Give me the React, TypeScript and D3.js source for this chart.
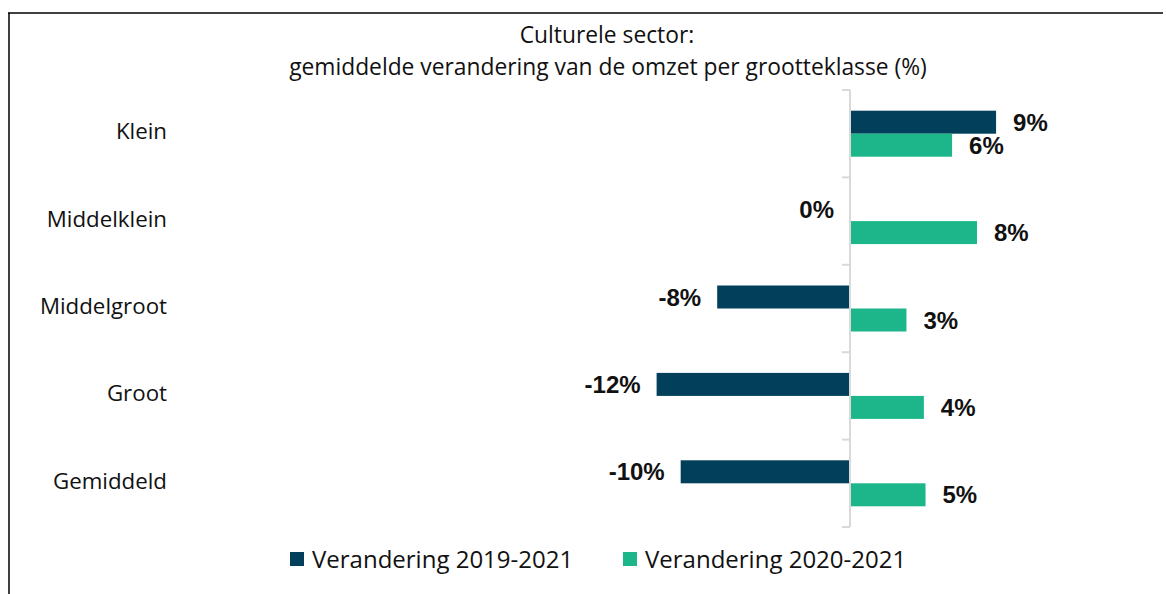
import React from "react";
import * as d3 from "d3";

// categories, top to bottom
const categories = ["Klein", "Middelklein", "Middelgroot", "Groot", "Gemiddeld"];
const seriesNames = ["Verandering 2019-2021", "Verandering 2020-2021"];
// percent change per size class
const change1921 = [8.8, 0, -8.0, -11.65, -10.2];
const change2021 = [6.15, 7.65, 3.4, 4.45, 4.55];
const colors = ["#023f5a", "#1db68a"];

const W = 1166;
const H = 594;
const textFont = "'Open Sans', Lato, sans-serif";

const App = () => {
  const x = d3.scaleLinear().domain([-40, 15]).range([186, 1099]);
  const y = d3.scaleBand().domain(categories).range([90, 527]);
  const sub = d3
    .scaleBand()
    .domain(seriesNames)
    .range([0, y.bandwidth()])
    .paddingInner(0)
    .paddingOuter(0.9);

  const series = [change1921, change2021];
  const x0 = x(0);
  const fmt = (v) => `${Math.round(v)}%`;
  const ticks = [...categories.map((c) => y(c)), 527];

  return (
    <svg
      width={W}
      height={H}
      style={{ position: "absolute", left: 0, top: 0, background: "#fff" }}
    >
      {/* frame (cropped at right and bottom) */}
      <line x1={8} x2={1163} y1={13} y2={13} stroke="#000" strokeWidth={1.5} />
      <line x1={9} x2={9} y1={13} y2={H} stroke="#000" strokeWidth={1.5} />

      {/* title */}
      <g fontFamily={textFont} fontSize={22.8} fill="#111" textAnchor="middle">
        <text x={607} y={34} dominantBaseline="central">Culturele sector:</text>
        <text x={608} y={66} dominantBaseline="central">
          gemiddelde verandering van de omzet per grootteklasse (%)
        </text>
      </g>

      {/* bars */}
      {series.map((vals, si) =>
        vals.map((v, i) => {
          const yy = y(categories[i]) + sub(seriesNames[si]);
          return (
            <rect
              key={`b${si}-${i}`}
              x={Math.min(x(v), x0)}
              y={yy}
              width={Math.abs(x(v) - x0)}
              height={sub.bandwidth()}
              fill={colors[si]}
            />
          );
        })
      )}

      {/* axis */}
      <g stroke="#d9d9d9" strokeWidth={2}>
        <line x1={x0} x2={x0} y1={90} y2={527} />
        {ticks.map((t, i) => (
          <line key={i} x1={x0 - 8} x2={x0} y1={t} y2={t} />
        ))}
      </g>

      {/* category labels */}
      <g fontFamily={textFont} fontSize={22.3} fill="#111" textAnchor="end">
        {categories.map((c) => (
          <text key={c} x={167} y={y(c) + y.bandwidth() / 2 - 3} dominantBaseline="central">
            {c}
          </text>
        ))}
      </g>

      {/* data labels */}
      <g fontFamily="'Liberation Sans', Arial, sans-serif" fontWeight="bold" fontSize={24} fill="#111">
        {series.map((vals, si) =>
          vals.map((v, i) => {
            const cy = y(categories[i]) + sub(seriesNames[si]) + sub.bandwidth() / 2;
            const pos = v > 0;
            return (
              <text
                key={`l${si}-${i}`}
                x={pos ? x(v) + 17 : x(v) - 16}
                y={cy}
                dominantBaseline="central"
                textAnchor={pos ? "start" : "end"}
              >
                {fmt(v)}
              </text>
            );
          })
        )}
      </g>

      {/* legend */}
      <g fontFamily={textFont} fontSize={24} fill="#111">
        {seriesNames.map((s, i) => {
          const lx = [290, 623][i];
          return (
            <g key={s}>
              <rect x={lx} y={552} width={14} height={14} fill={colors[i]} />
              <text x={lx + 22} y={558} dominantBaseline="central">
                {s}
              </text>
            </g>
          );
        })}
      </g>
    </svg>
  );
};

export default App;
